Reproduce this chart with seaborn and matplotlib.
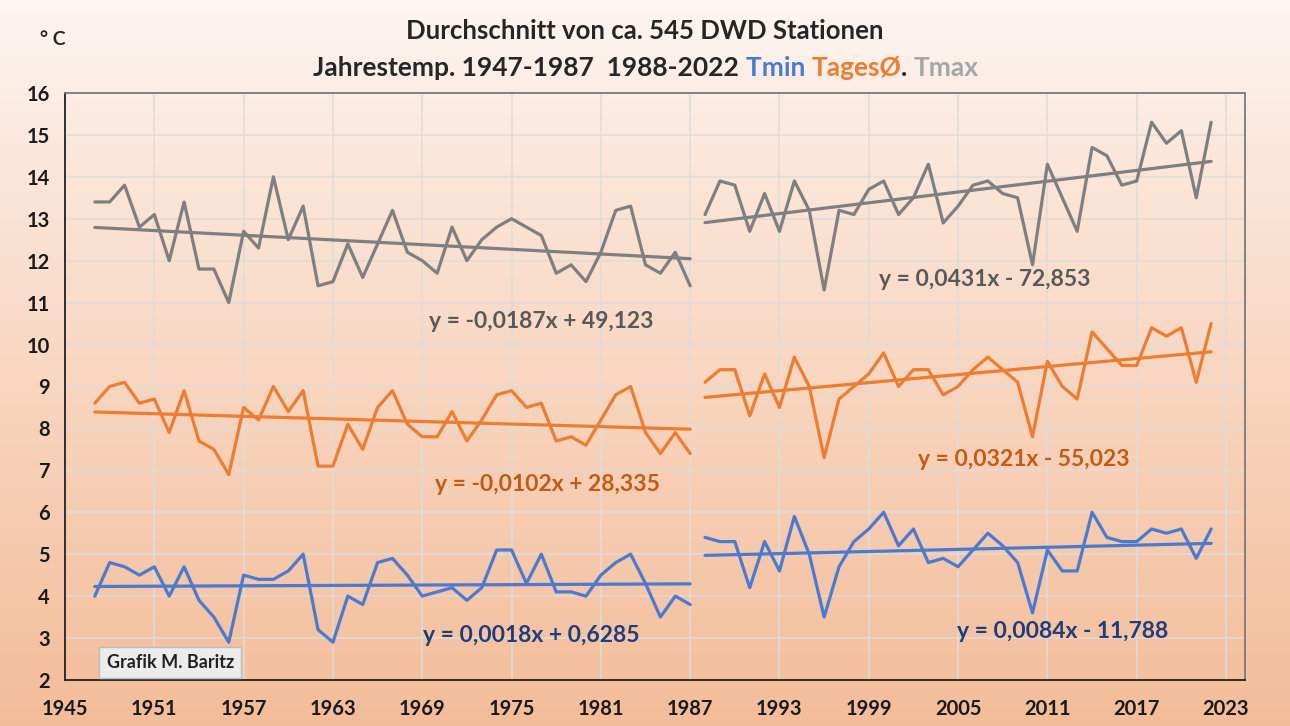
import numpy as np
import pandas as pd
import matplotlib
matplotlib.use("Agg")
import matplotlib.pyplot as plt
from matplotlib.text import Annotation
import seaborn as sns

years_1 = list(range(1947, 1988))
years_2 = list(range(1988, 2023))

tmax_1 = [13.4, 13.4, 13.8, 12.8, 13.1, 12.0, 13.4, 11.8, 11.8, 11.0,
          12.7, 12.3, 14.0, 12.5, 13.3, 11.4, 11.5, 12.4, 11.6, 12.4,
          13.2, 12.2, 12.0, 11.7, 12.8, 12.0, 12.5, 12.8, 13.0, 12.8,
          12.6, 11.7, 11.9, 11.5, 12.2, 13.2, 13.3, 11.9, 11.7, 12.2, 11.4]
tmax_2 = [13.1, 13.9, 13.8, 12.7, 13.6, 12.7, 13.9, 13.2, 11.3, 13.2,
          13.1, 13.7, 13.9, 13.1, 13.5, 14.3, 12.9, 13.3, 13.8, 13.9,
          13.6, 13.5, 11.9, 14.3, 13.5, 12.7, 14.7, 14.5, 13.8, 13.9,
          15.3, 14.8, 15.1, 13.5, 15.3]

tmean_1 = [8.6, 9.0, 9.1, 8.6, 8.7, 7.9, 8.9, 7.7, 7.5, 6.9,
           8.5, 8.2, 9.0, 8.4, 8.9, 7.1, 7.1, 8.1, 7.5, 8.5,
           8.9, 8.1, 7.8, 7.8, 8.4, 7.7, 8.2, 8.8, 8.9, 8.5,
           8.6, 7.7, 7.8, 7.6, 8.2, 8.8, 9.0, 7.9, 7.4, 7.9, 7.4]
tmean_2 = [9.1, 9.4, 9.4, 8.3, 9.3, 8.5, 9.7, 9.0, 7.3, 8.7,
           9.0, 9.3, 9.8, 9.0, 9.4, 9.4, 8.8, 9.0, 9.4, 9.7,
           9.4, 9.1, 7.8, 9.6, 9.0, 8.7, 10.3, 9.9, 9.5, 9.5,
           10.4, 10.2, 10.4, 9.1, 10.5]

tmin_1 = [4.0, 4.8, 4.7, 4.5, 4.7, 4.0, 4.7, 3.9, 3.5, 2.9,
          4.5, 4.4, 4.4, 4.6, 5.0, 3.2, 2.9, 4.0, 3.8, 4.8,
          4.9, 4.5, 4.0, 4.1, 4.2, 3.9, 4.2, 5.1, 5.1, 4.3,
          5.0, 4.1, 4.1, 4.0, 4.5, 4.8, 5.0, 4.3, 3.5, 4.0, 3.8]
tmin_2 = [5.4, 5.3, 5.3, 4.2, 5.3, 4.6, 5.9, 5.0, 3.5, 4.7,
          5.3, 5.6, 6.0, 5.2, 5.6, 4.8, 4.9, 4.7, 5.1, 5.5,
          5.2, 4.8, 3.6, 5.1, 4.6, 4.6, 6.0, 5.4, 5.3, 5.3,
          5.6, 5.5, 5.6, 4.9, 5.6]

eq_labels = {
    ("tmax", 1): "y = -0,0187x + 49,123",
    ("tmax", 2): "y = 0,0431x - 72,853",
    ("tmean", 1): "y = -0,0102x + 28,335",
    ("tmean", 2): "y = 0,0321x - 55,023",
    ("tmin", 1): "y = 0,0018x + 0,6285",
    ("tmin", 2): "y = 0,0084x - 11,788",
}

colors = {"tmax": "#7f7f7f", "tmean": "#ed7d31", "tmin": "#4a7bd0"}
eq_colors = {"tmax": "#595959", "tmean": "#c55a11", "tmin": "#1f3d7a"}

rows = []
for name, s1, s2 in [("tmax", tmax_1, tmax_2), ("tmean", tmean_1, tmean_2),
                     ("tmin", tmin_1, tmin_2)]:
    for y, v in zip(years_1, s1):
        rows.append((name, 1, y, v))
    for y, v in zip(years_2, s2):
        rows.append((name, 2, y, v))
df = pd.DataFrame(rows, columns=["serie", "period", "jahr", "temp"])

sns.set_style("whitegrid")
plt.rcParams["font.family"] = ["Lato", "DejaVu Sans"]
plt.rcParams["font.weight"] = "bold"

fig = plt.figure(figsize=(12.9, 7.26), dpi=100)

# background gradient for the whole figure
bg = fig.add_axes([0, 0, 1, 1], zorder=-10)
grad = np.linspace(0, 1, 256).reshape(-1, 1)
top_c = np.array([0.995, 0.965, 0.95])
bot_c = np.array([0.955, 0.74, 0.60])
img = top_c + (bot_c - top_c) * grad[:, :, None] ** 0.9
bg.imshow(img, aspect="auto", extent=[0, 1, 0, 1], origin="upper")
bg.set_axis_off()

ax = fig.add_axes([0.0504, 0.0634, 0.915, 0.8086])
ax.set_facecolor("none")

for (name, period), sub in df.groupby(["serie", "period"]):
    sns.lineplot(data=sub, x="jahr", y="temp", ax=ax, color=colors[name],
                 lw=2.3, legend=False)
    sns.regplot(data=sub, x="jahr", y="temp", ax=ax, scatter=False, ci=None,
                truncate=True, color=colors[name], line_kws={"lw": 2.3})

# equation labels
eq_pos = {
    ("tmax", 1): (1977.0, 10.55), ("tmax", 2): (2006.8, 11.55),
    ("tmean", 1): (1977.4, 6.65), ("tmean", 2): (2009.4, 7.25),
    ("tmin", 1): (1976.3, 3.05), ("tmin", 2): (2012.0, 3.15),
}
for key, txt in eq_labels.items():
    x, y = eq_pos[key]
    ax.text(x, y, txt, color=eq_colors[key[0]], fontsize=16.5,
            fontweight="bold", ha="center", va="center")

ax.set_xlim(1945, 2024.3)
ax.set_ylim(2, 16)
ax.set_xticks(range(1945, 2024, 6))
ax.set_yticks(range(2, 17))
ax.tick_params(axis="both", labelsize=14.5, length=5, direction="out",
               color="#333333", pad=3)
ax.tick_params(axis="x", pad=9)
ax.tick_params(axis="y", pad=6)
for lab in ax.get_xticklabels() + ax.get_yticklabels():
    lab.set_fontweight("bold")
    lab.set_color("#1a1a1a")
ax.set_xlabel("")
ax.set_ylabel("")
ax.grid(True, color="#e0dcd8", lw=1.1)
for side in ["left", "bottom"]:
    ax.spines[side].set_color("#222222")
    ax.spines[side].set_linewidth(1.3)
for side in ["top", "right"]:
    ax.spines[side].set_color("#7a7a7a")
    ax.spines[side].set_linewidth(1.3)

# source box
ax.text(1947.8, 2.42, "Grafik M. Baritz", fontsize=13, fontweight="bold",
        color="#222222", ha="left", va="center",
        bbox=dict(boxstyle="square,pad=0.4", fc="#ececec", ec="#bdbdbd",
                  lw=1.0))

# titles
fig.text(0.5, 0.957, "Durchschnitt von ca. 545 DWD Stationen", ha="center",
         va="center", fontsize=18.5, fontweight="bold", color="#262626")
prev = fig.text(0.243, 0.906, "Jahrestemp. 1947-1987  1988-2022 ", ha="left",
                va="center", fontsize=19, fontweight="bold", color="#262626")
for piece, c in [("Tmin ", "#4a7bd0"), ("TagesØ", "#ed7d31"),
                 (". ", "#262626"), ("Tmax", "#a6a6a6")]:
    prev = fig.add_artist(Annotation(
        piece, xy=(1, 0.5), xycoords=prev, va="center", ha="left",
        fontsize=19, fontweight="bold", color=c))
fig.text(0.031, 0.945, "° C", fontsize=14, fontweight="bold", color="#262626",
         ha="left", va="center")

fig.savefig("out.png", dpi=100)
